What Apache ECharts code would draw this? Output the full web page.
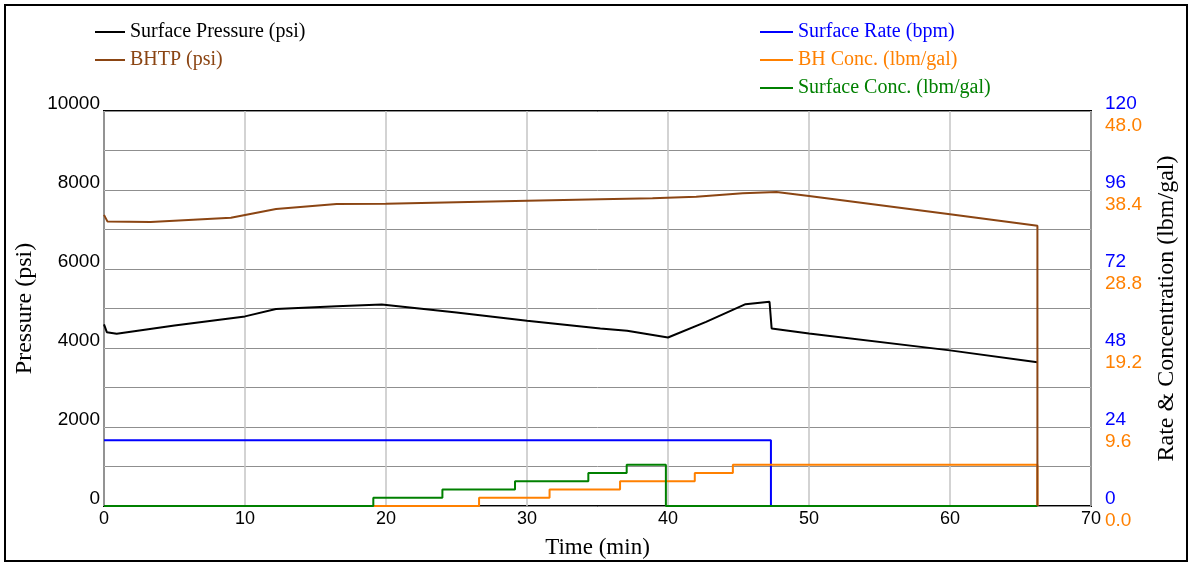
<!DOCTYPE html>
<html>
<head>
<meta charset="utf-8">
<script src="https://cdn.jsdelivr.net/npm/echarts@6/dist/echarts.min.js"></script>
<style>
  html, body { margin: 0; padding: 0; background: #fff; }
  #chart { width: 1192px; height: 565px; }
</style>
</head>
<body>
<div id="chart"></div>
<script>
// ---- Treatment record (time in minutes) ----
const surfacePressureTime = [0, 0.2, 0.9, 5, 10, 12.2, 16.5, 19.7, 25, 30, 35.2, 37.1, 40, 42.7, 45.5, 47.2, 47.35, 50, 60, 66.2];
const surfacePressurePsi  = [4600, 4400, 4360, 4570, 4800, 4985, 5060, 5100, 4900, 4690, 4495, 4435, 4265, 4660, 5110, 5170, 4495, 4370, 3940, 3640];

const bhtpTime = [0, 0.25, 3.3, 9, 12.2, 16.5, 20, 30, 35.2, 38.9, 42, 45.3, 47.7, 50, 60, 66.2, 66.2];
const bhtpPsi  = [7370, 7200, 7190, 7300, 7520, 7645, 7650, 7725, 7765, 7790, 7830, 7915, 7950, 7850, 7385, 7095, 0];

// Step series: each value holds until the next time stamp
const surfaceRateTime = [0, 47.3];
const surfaceRateBpm  = [20, 0];

const bhConcTime = [0, 26.6, 31.6, 36.6, 41.9, 44.6, 66.2];
const bhConc     = [0, 1, 2, 3, 4, 5, 0];

const surfaceConcTime = [0, 19.1, 24.0, 29.15, 34.35, 37.07, 39.85, 66.2];
const surfaceConc     = [0, 1, 2, 3, 4, 5, 0, 0];

// ---- Axis scales ----
const timeAxis     = { min: 0, max: 70, interval: 10 };
const pressureAxis = { min: 0, max: 10000, interval: 1000, labelEvery: 2000 };
const rateAxis     = { min: 0, max: 120, interval: 24 };
const concAxis     = { min: 0, max: 48, interval: 9.6 };

const COLORS = {
  pressure: '#000000',
  bhtp: '#8B4513',
  rate: '#0000FF',
  bhConc: '#FF8000',
  surfConc: '#008000'
};

const zip = (xs, ys) => xs.map((x, i) => [x, ys[i]]);

const SANS = 'Liberation Sans, Arial, sans-serif';
const SERIF = 'Liberation Serif, Times New Roman, serif';

const chart = echarts.init(document.getElementById('chart'), null, { renderer: 'canvas' });

const legendText = { fontFamily: SERIF, fontSize: 20, lineHeight: 20 };

chart.setOption({
  animation: false,
  backgroundColor: '#fff',
  graphic: [{
    type: 'rect',
    shape: { x: 5, y: 5, width: 1182, height: 556 },
    style: { fill: 'none', stroke: '#000', lineWidth: 2 },
    silent: true
  }],
  legend: [{
    orient: 'vertical', left: 95, top: 22, padding: 0,
    itemWidth: 30, itemHeight: 2, itemGap: 8, icon: 'rect',
    selectedMode: false,
    textStyle: legendText,
    data: [
      { name: 'Surface Pressure (psi)', textStyle: { color: COLORS.pressure } },
      { name: 'BHTP (psi)', textStyle: { color: COLORS.bhtp } }
    ]
  }, {
    orient: 'vertical', left: 760, top: 22, padding: 0,
    itemWidth: 33, itemHeight: 2, itemGap: 8, icon: 'rect',
    selectedMode: false,
    textStyle: legendText,
    data: [
      { name: 'Surface Rate (bpm)', textStyle: { color: COLORS.rate } },
      { name: 'BH Conc. (lbm/gal)', textStyle: { color: COLORS.bhConc } },
      { name: 'Surface Conc. (lbm/gal)', textStyle: { color: COLORS.surfConc } }
    ]
  }],
  grid: {
    left: 104, top: 111, right: 101, bottom: 59,
    show: true, borderColor: '#000', borderWidth: 2, backgroundColor: 'transparent'
  },
  xAxis: {
    type: 'value', min: timeAxis.min, max: timeAxis.max, interval: timeAxis.interval,
    name: 'Time (min)', nameLocation: 'middle', nameGap: 30,
    nameTextStyle: { fontFamily: SERIF, fontSize: 23, color: '#000' },
    axisLine: { show: false }, axisTick: { show: false },
    axisLabel: { fontFamily: SANS, fontSize: 18, color: '#000', margin: 6, lineHeight: 14 },
    splitLine: { show: true, lineStyle: { color: '#c4c4c4', width: 1.5 } }
  },
  yAxis: [{
    type: 'value', position: 'left',
    min: pressureAxis.min, max: pressureAxis.max, interval: pressureAxis.interval,
    name: 'Pressure (psi)', nameLocation: 'middle', nameGap: 66,
    nameTextStyle: { fontFamily: SERIF, fontSize: 24, color: '#000' },
    axisLine: { show: false }, axisTick: { show: false },
    axisLabel: {
      fontFamily: SANS, fontSize: 19, color: '#000', margin: 4,
      verticalAlign: 'bottom', lineHeight: 14,
      formatter: v => (v % pressureAxis.labelEvery === 0 ? String(v) : '')
    },
    splitLine: { show: true, lineStyle: { color: '#8f8f8f', width: 1 } }
  }, {
    type: 'value', position: 'right',
    min: rateAxis.min, max: rateAxis.max, interval: rateAxis.interval,
    name: 'Rate & Concentration (lbm/gal)', nameLocation: 'middle', nameGap: 64,
    nameTextStyle: { fontFamily: SERIF, fontSize: 24, color: '#000' },
    axisLine: { show: false }, axisTick: { show: false },
    axisLabel: {
      fontFamily: SANS, fontSize: 19, color: COLORS.rate, margin: 14,
      verticalAlign: 'bottom', lineHeight: 14
    },
    splitLine: { show: false }
  }, {
    type: 'value', position: 'right',
    min: concAxis.min, max: concAxis.max, interval: concAxis.interval,
    axisLine: { show: false }, axisTick: { show: false },
    axisLabel: {
      fontFamily: SANS, fontSize: 19, color: COLORS.bhConc, margin: 14,
      verticalAlign: 'top', lineHeight: 14, padding: [8, 0, 0, 0],
      formatter: v => v.toFixed(1)
    },
    splitLine: { show: false }
  }],
  series: [{
    name: 'Surface Rate (bpm)', type: 'line', yAxisIndex: 1, step: 'end',
    showSymbol: false, symbol: 'none',
    lineStyle: { color: COLORS.rate, width: 2 }, itemStyle: { color: COLORS.rate },
    data: zip(surfaceRateTime, surfaceRateBpm)
  }, {
    name: 'BH Conc. (lbm/gal)', type: 'line', yAxisIndex: 2, step: 'end',
    showSymbol: false, symbol: 'none',
    lineStyle: { color: COLORS.bhConc, width: 2 }, itemStyle: { color: COLORS.bhConc },
    data: zip(bhConcTime, bhConc)
  }, {
    name: 'Surface Conc. (lbm/gal)', type: 'line', yAxisIndex: 2, step: 'end',
    showSymbol: false, symbol: 'none',
    lineStyle: { color: COLORS.surfConc, width: 2 }, itemStyle: { color: COLORS.surfConc },
    data: zip(surfaceConcTime, surfaceConc)
  }, {
    name: 'Surface Pressure (psi)', type: 'line', yAxisIndex: 0,
    showSymbol: false, symbol: 'none',
    lineStyle: { color: COLORS.pressure, width: 2 }, itemStyle: { color: COLORS.pressure },
    data: zip(surfacePressureTime, surfacePressurePsi)
  }, {
    name: 'BHTP (psi)', type: 'line', yAxisIndex: 0,
    showSymbol: false, symbol: 'none',
    lineStyle: { color: COLORS.bhtp, width: 2 }, itemStyle: { color: COLORS.bhtp },
    data: zip(bhtpTime, bhtpPsi)
  }]
});
</script>
</body>
</html>
